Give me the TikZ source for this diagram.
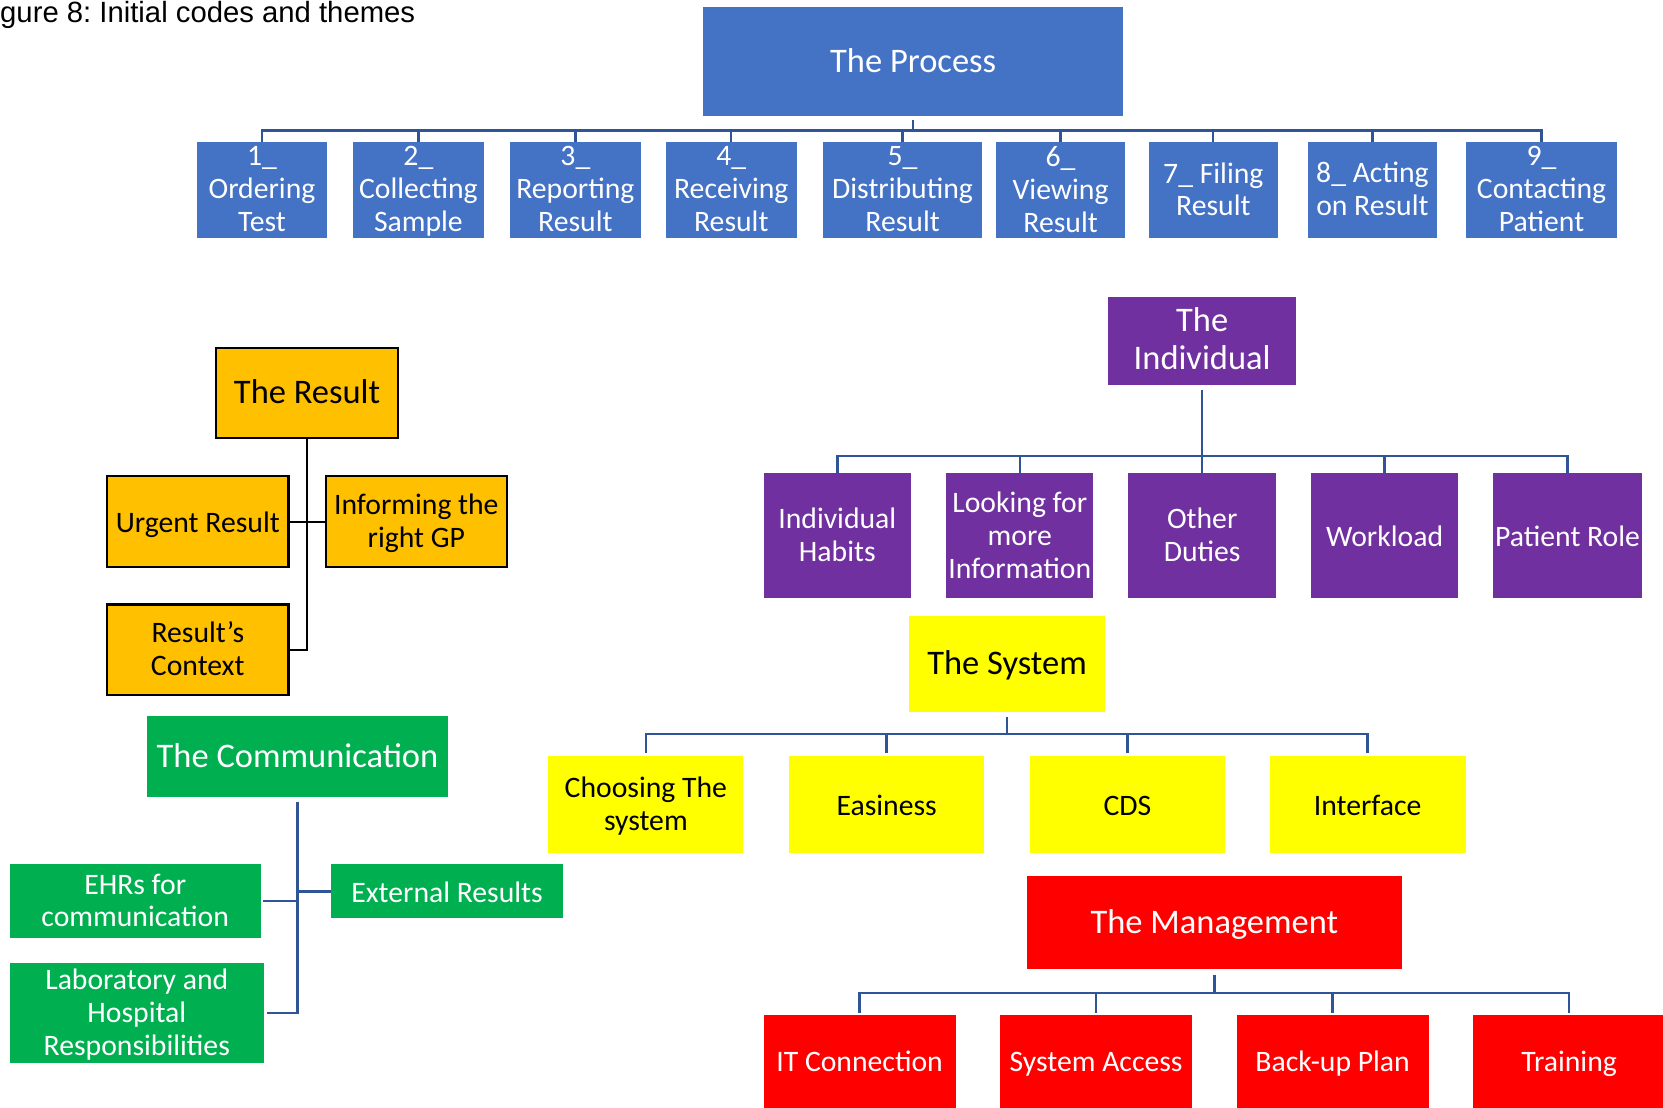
\documentclass[tikz,border=0pt]{standalone}
\usepackage{fontspec}
\setmainfont{Carlito}
\newfontfamily\titlefont{Liberation Sans}
\usetikzlibrary{calc}
\frenchspacing
\definecolor{cblue}{HTML}{4472C4}
\definecolor{corange}{HTML}{FFC000}
\definecolor{cgreen}{HTML}{00B050}
\definecolor{cpurple}{HTML}{7030A0}
\definecolor{cyellow}{HTML}{FFFF00}
\definecolor{cred}{HTML}{FF0000}
\definecolor{cline}{RGB}{47,85,151}
\newcommand\mybox[8]{%
 \node[shapebox,#6, minimum width={(#4-#2)*1pt}, minimum height={(#5-#3)*1pt}] (#1) at ({(#2+#4)/2},{(#3+#5)/2}) {};
 \node[txt,#7] (#1t) at (#1.center) {#8};}
\tikzset{
 shapebox/.style={rectangle, inner sep=0pt, outer sep=0pt},
 txt/.style={inner sep=0pt, align=center, font=\fontsize{28}{31}\selectfont, yshift=-4pt,
   execute at begin node={\strut}, execute at end node={\strut}},
 headtxt/.style={font=\fontsize{32.5}{36}\selectfont, yshift=1pt},
 bluebox/.style={fill=cblue},
 orangebox/.style={fill=corange, draw=black, line width=2pt},
 greenbox/.style={fill=cgreen},
 purplebox/.style={fill=cpurple},
 yellowbox/.style={fill=cyellow},
 redbox/.style={fill=cred},
 wtxt/.style={text=white},
 btxt/.style={text=black},
 conn/.style={draw=cline, line width=2.2pt},
 blk/.style={draw=black, line width=2pt},
}
\begin{document}
\begin{tikzpicture}[x=1pt,y=-1pt]
\useasboundingbox (0,0) rectangle (1568,1044);
\node[anchor=base west, inner sep=0pt, font=\titlefont\fontsize{27.6}{30}\selectfont] (title) at (-23,21) {Figure 8: Initial codes and themes};

% The Process
\mybox{proc}{663}{7}{1059}{109}{bluebox}{wtxt,headtxt}{The Process}
\mybox{p1}{186}{134}{308}{224}{bluebox}{wtxt}{1\_\\Ordering\\Test}
\mybox{p2}{333}{134}{456}{224}{bluebox}{wtxt}{2\_\\Collecting\\Sample}
\mybox{p3}{481}{134}{604}{224}{bluebox}{wtxt}{3\_\\Reporting\\Result}
\mybox{p4}{628}{134}{751}{224}{bluebox}{wtxt}{4\_\\Receiving\\Result}
\mybox{p5}{776}{134}{926}{224}{bluebox}{wtxt}{5\_\\Distributing\\Result}
\mybox{p6}{939}{134}{1061}{224}{bluebox}{wtxt}{6\_\\Viewing\\Result}
\mybox{p7}{1083}{134}{1205}{224}{bluebox}{wtxt}{7\_ Filing\\Result}
\mybox{p8}{1233}{134}{1355}{224}{bluebox}{wtxt}{8\_ Acting\\on Result}
\mybox{p9}{1382}{134}{1525}{224}{bluebox}{wtxt}{9\_\\Contacting\\Patient}
\coordinate (pb) at ($(proc.south)+(0,14)$);
\draw[conn] ($(proc.south)+(0,4)$) -- (pb);
\draw[conn] (p1.north) -- (pb -| p1.north) -- (pb -| p9.north) -- (p9.north);
\foreach \i in {2,...,8} \draw[conn] (pb -| p\i.north) -- (p\i.north);

% The Result
\mybox{res}{204}{328}{375}{413}{orangebox}{btxt,headtxt}{The Result}
\mybox{urg}{101}{449}{272}{535}{orangebox}{btxt}{Urgent Result}
\mybox{inf}{307}{449}{478}{535}{orangebox}{btxt}{Informing the\\right GP}
\mybox{ctx}{101}{570}{272}{655}{orangebox}{btxt}{Result’s\\Context}
\draw[blk] (res.south) -- (res.south |- ctx.east) -- (ctx.east);
\draw[blk] (urg.east) -- (inf.west);

% The Communication
\mybox{comm}{139}{675}{422}{751}{greenbox}{wtxt,headtxt}{The Communication}
\mybox{ehr}{9}{815}{246}{884}{greenbox}{wtxt}{EHRs for\\communication}
\mybox{ext}{312}{815}{531}{866}{greenbox}{wtxt}{External Results}
\mybox{lab}{9}{908}{249}{1002}{greenbox}{wtxt}{Laboratory and\\Hospital\\Responsibilities}
\draw[conn] ($(comm.south)+(0,5)$) -- (comm.south |- lab.east) -- ($(lab.east)+(3,0)$);
\draw[conn] (ext.west) -- (ext.west -| comm.south);
\draw[conn] ($(ehr.east)+(2,0)$) -- (ehr.east -| comm.south);

% The Individual
\mybox{ind}{1045}{280}{1222}{363}{purplebox}{wtxt,headtxt}{The\\Individual}
\mybox{i1}{720}{446}{859}{564}{purplebox}{wtxt}{Individual\\Habits}
\mybox{i2}{892}{446}{1031}{564}{purplebox}{wtxt}{Looking for\\more\\Information}
\mybox{i3}{1064}{446}{1203}{564}{purplebox}{wtxt}{Other\\Duties}
\mybox{i4}{1236}{446}{1375}{564}{purplebox}{wtxt}{Workload}
\mybox{i5}{1408}{446}{1548}{564}{purplebox}{wtxt}{Patient Role}
\coordinate (ib) at ($(ind.south)+(0,67)$);
\draw[conn] ($(ind.south)+(0,5)$) -- (ib);
\draw[conn] (i1.north) -- (ib -| i1.north) -- (ib -| i5.north) -- (i5.north);
\foreach \i in {2,...,4} \draw[conn] (ib -| i\i.north) -- (i\i.north);

% The System
\mybox{sys}{857}{581}{1042}{671}{yellowbox}{btxt,headtxt}{The System}
\mybox{s1}{517}{713}{701}{804}{yellowbox}{btxt}{Choosing The\\system}
\mybox{s2}{744}{713}{928}{804}{yellowbox}{btxt}{Easiness}
\mybox{s3}{971}{713}{1155}{804}{yellowbox}{btxt}{CDS}
\mybox{s4}{1197}{713}{1382}{804}{yellowbox}{btxt}{Interface}
\coordinate (sb) at ($(sys.south)+(0,21)$);
\draw[conn] ($(sys.south)+(0,5)$) -- (sb);
\draw[conn] ($(s1.north)+(0,-3)$) -- (sb -| s1.north) -- (sb -| s4.north) -- ($(s4.north)+(0,-3)$);
\foreach \i in {2,3} \draw[conn] (sb -| s\i.north) -- ($(s\i.north)+(0,-3)$);

% The Management
\mybox{man}{968}{826}{1322}{914}{redbox}{wtxt,headtxt}{The Management}
\mybox{m1}{720}{957}{901}{1043}{redbox}{wtxt}{IT Connection}
\mybox{m2}{943}{957}{1124}{1043}{redbox}{wtxt}{System Access}
\mybox{m3}{1166}{957}{1347}{1043}{redbox}{wtxt}{Back-up Plan}
\mybox{m4}{1389}{957}{1570}{1043}{redbox}{wtxt}{Training}
\fill[cred] (m1.south west) rectangle ($(m1.south east)+(0,4)$);
\fill[cred] (m2.south west) rectangle ($(m2.south east)+(0,4)$);
\fill[cred] (m3.south west) rectangle ($(m3.south east)+(0,4)$);
\fill[cred] (m4.south west) rectangle ($(m4.south east)+(0,4)$);
\coordinate (mb) at ($(man.south)+(0,22)$);
\draw[conn] ($(man.south)+(0,5)$) -- (mb);
\draw[conn] ($(m1.north)+(0,-2)$) -- (mb -| m1.north) -- (mb -| m4.north) -- ($(m4.north)+(0,-2)$);
\foreach \i in {2,3} \draw[conn] (mb -| m\i.north) -- ($(m\i.north)+(0,-2)$);
\end{tikzpicture}
\end{document}
